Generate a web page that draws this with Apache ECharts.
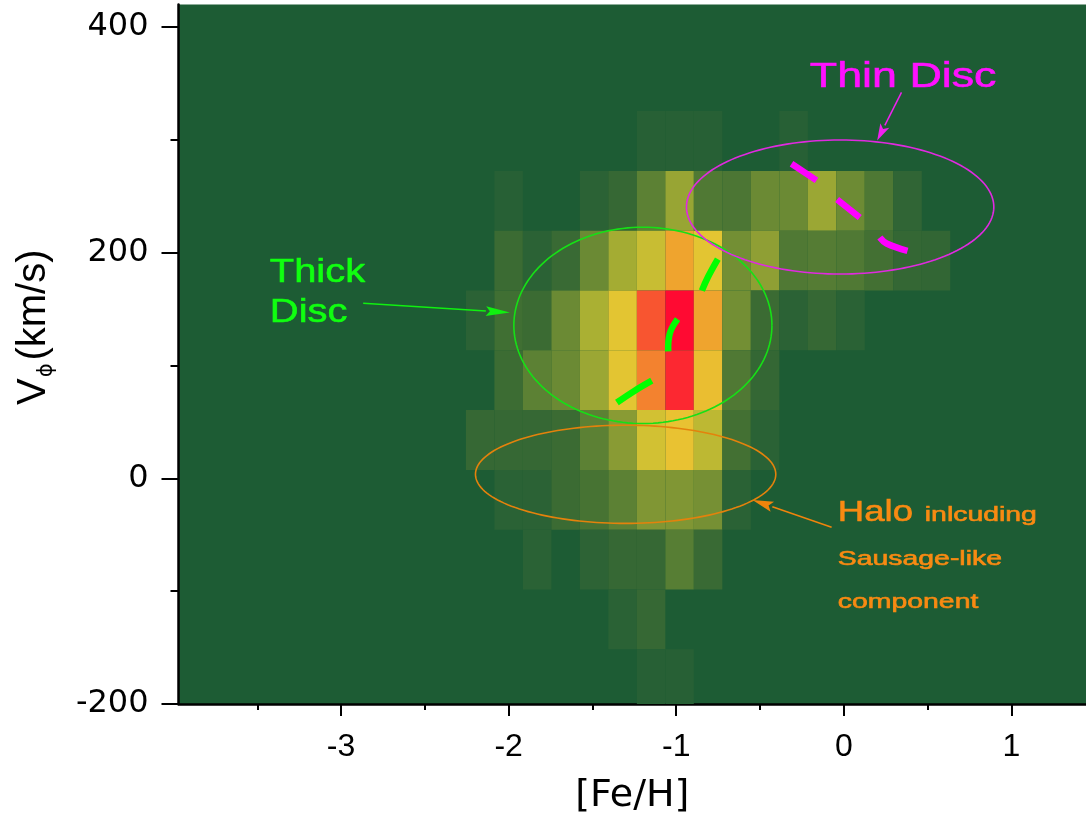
<!DOCTYPE html>
<html>
<head>
<meta charset="utf-8">
<title>[Fe/H] vs V_phi density</title>
<script src="https://cdn.jsdelivr.net/npm/echarts@6/dist/echarts.min.js"></script>
<style>
  html, body { margin: 0; padding: 0; background: #ffffff; }
  #chart { width: 1086px; height: 820px; }
</style>
</head>
<body>
<div id="chart"></div>
<script>
// ---- bin edges ----
// [Fe/H] bin edges (dex), left to right
const feEdges = [-2.255, -2.085, -1.915, -1.745, -1.575, -1.405, -1.235, -1.065, -0.895,
                 -0.725, -0.555, -0.385, -0.215, -0.045, 0.125, 0.295, 0.465, 0.635];
// V_phi bin edges (km/s), top to bottom
const vphiEdges = [325.5, 272.5, 219.5, 166.5, 113.5, 60.5, 7.5, -45.5, -98.5, -151.5, -204.5];

// ---- relative star density per bin (0-100), one row per V_phi bin, top to bottom ----
const rowV299  = [0, 0, 0, 0, 0, 0, 6, 6, 6, 0, 0, 6, 0, 0, 0, 0, 0];
const rowV246  = [0, 6, 0, 0, 9, 15, 33, 54, 28, 26, 39, 39, 55, 40, 27, 12, 0];
const rowV193  = [0, 18, 9, 17, 39, 58, 68, 89, 78, 42, 51, 28, 30, 28, 22, 14, 13];
const rowV140  = [9, 21, 18, 39, 60, 78, 95, 100, 89, 42, 18, 9, 15, 8, 0, 0, 0];
const rowV87   = [0, 19, 33, 39, 55, 78, 92, 98, 82, 28, 14, 0, 0, 0, 0, 0, 0];
const rowV34   = [15, 15, 15, 18, 33, 49, 71, 81, 65, 22, 8, 0, 0, 0, 0, 0, 0];
const rowVm19  = [0, 8, 9, 18, 24, 33, 46, 46, 43, 8, 0, 0, 0, 0, 0, 0, 0];
const rowVm72  = [0, 0, 8, 0, 10, 15, 15, 31, 17, 0, 0, 0, 0, 0, 0, 0, 0];
const rowVm125 = [0, 0, 0, 0, 0, 8, 15, 0, 0, 0, 0, 0, 0, 0, 0, 0, 0];
const rowVm178 = [0, 0, 0, 0, 0, 0, 6, 6, 0, 0, 0, 0, 0, 0, 0, 0, 0];
const densityRows = [rowV299, rowV246, rowV193, rowV140, rowV87, rowV34, rowVm19, rowVm72, rowVm125, rowVm178];

// ---- axis ticks ----
const xMajorTicks = [-3, -2, -1, 0, 1];
const xMinorTicks = [-3.5, -2.5, -1.5, -0.5, 0.5];
const yMajorTicks = [-200, 0, 200, 400];
const yMinorTicks = [-100, 100, 300];

// ---- annotation geometry (data coordinates) ----
const ellipses = [
  { cx: -1.199, cy: 135.6, rx: 0.770, ry: 87.0, color: '#16e016' },  // thick disc
  { cx: -0.022, cy: 240.5, rx: 0.917, ry: 59.4, color: '#e02ae0' },  // thin disc
  { cx: -1.302, cy: 3.6,   rx: 0.896, ry: 43.5, color: '#e4820c' }   // halo
];
const dashes = [
  { color: '#00ff00', pts: [[-1.354, 67.2], [-1.25, 77.5], [-1.146, 86.6]] },
  { color: '#00ff00', pts: [[-1.048, 112.5], [-1.038, 128.7], [-0.992, 141.1]] },
  { color: '#00ff00', pts: [[-0.847, 166.4], [-0.810, 178.7], [-0.752, 194.4]] },
  { color: '#ff00ff', pts: [[-0.312, 278.9], [-0.163, 264.1]] },
  { color: '#ff00ff', pts: [[-0.040, 247.1], [0.095, 231.2]] },
  { color: '#ff00ff', pts: [[0.215, 213.5], [0.255, 208.2], [0.380, 201.7]] }
];
const arrows = [
  { from: [-2.868, 155.2], to: [-1.993, 146.9], color: '#10f010', head: 24, half: 4.8 },
  { from: [0.344, 342.1],  to: [0.199, 299.4],  color: '#f020f0', head: 17, half: 5 },
  { from: [-0.073, -43.4], to: [-0.545, -19.1], color: '#f0840c', head: 21, half: 5.2 }
];
const notes = [
  { text: 'Thin Disc',    at: [-0.203, 355.3],  size: 35,   sx: 1.28, color: '#ff10ff' },
  { text: 'Thick',        at: [-3.425, 182.0],  size: 33.5, sx: 1.19, color: '#10ff10' },
  { text: 'Disc',         at: [-3.425, 147.1],  size: 33.5, sx: 1.19, color: '#10ff10' },
  { text: 'Halo',         at: [-0.036, -30.5],  size: 29,   sx: 1.26, color: '#f88a12' },
  { text: 'inlcuding',    at: [0.483, -33.3],   size: 20,   sx: 1.42, color: '#f88a12' },
  { text: 'Sausage-like', at: [-0.036, -72.1],  size: 20,   sx: 1.42, color: '#f88a12' },
  { text: 'component',    at: [-0.036, -110.1], size: 20,   sx: 1.42, color: '#f88a12' }
];

// one record per non-empty bin: [xLow, xHigh, yLow, yHigh, density]
const cells = [];
densityRows.forEach((row, r) => {
  row.forEach((v, c) => {
    if (v > 0) cells.push([feEdges[c], feEdges[c + 1], vphiEdges[r + 1], vphiEdges[r], v]);
  });
});

function renderCell(params, api) {
  const p0 = api.coord([api.value(0), api.value(3)]);
  const p1 = api.coord([api.value(1), api.value(2)]);
  const cs = params.coordSys;
  const rect = echarts.graphic.clipRectByRect(
    { x: p0[0], y: p0[1], width: p1[0] - p0[0], height: p1[1] - p0[1] },
    { x: cs.x, y: cs.y, width: cs.width, height: cs.height }
  );
  if (!rect) return null;
  return { type: 'rect', shape: rect, style: { fill: api.visual('color') } };
}

function renderNotes(params, api) {
  const children = [];
  ellipses.forEach(e => {
    const c = api.coord([e.cx, e.cy]);
    const ex = api.coord([e.cx + e.rx, e.cy]);
    const ey = api.coord([e.cx, e.cy + e.ry]);
    const a = ex[0] - c[0], b = c[1] - ey[1];
    const pts = [];
    for (let i = 0; i <= 160; i++) {
      const t = (i / 160) * Math.PI * 2;
      pts.push([c[0] + a * Math.cos(t), c[1] + b * Math.sin(t)]);
    }
    children.push({ type: 'polyline', shape: { points: pts }, style: { stroke: e.color, lineWidth: 1.6, fill: null } });
  });
  dashes.forEach(d => {
    children.push({
      type: 'polyline',
      shape: { points: d.pts.map(p => api.coord(p)), smooth: 0.4 },
      style: { stroke: d.color, lineWidth: 6.5, lineCap: 'butt', fill: null }
    });
  });
  arrows.forEach(ar => {
    const f = api.coord(ar.from), t = api.coord(ar.to);
    const dx = t[0] - f[0], dy = t[1] - f[1];
    const len = Math.sqrt(dx * dx + dy * dy);
    const ux = dx / len, uy = dy / len;
    const bx = t[0] - ux * ar.head, by = t[1] - uy * ar.head;
    children.push({ type: 'line', shape: { x1: f[0], y1: f[1], x2: bx, y2: by }, style: { stroke: ar.color, lineWidth: 1.5 } });
    children.push({
      type: 'polygon',
      shape: { points: [[t[0], t[1]], [bx - uy * ar.half, by + ux * ar.half], [bx + ux * 4, by + uy * 4], [bx + uy * ar.half, by - ux * ar.half]] },
      style: { fill: ar.color }
    });
  });
  notes.forEach(n => {
    const p = api.coord(n.at);
    children.push({
      type: 'text', x: p[0], y: p[1], scaleX: n.sx,
      style: {
        text: n.text, fill: n.color, stroke: n.color, lineWidth: 0.6,
        fontSize: n.size, fontFamily: 'Liberation Sans, Arial, sans-serif',
        align: 'left', verticalAlign: 'middle'
      }
    });
  });
  return { type: 'group', children: children };
}

const axisFont = 'Liberation Sans, Arial, sans-serif';
const xRange = { min: -3.97, max: 1.445 };
const yRange = { min: -200, max: 420 };

const chart = echarts.init(document.getElementById('chart'), null, { renderer: 'canvas' });
chart.setOption({
  animation: false,
  backgroundColor: '#ffffff',
  grid: {
    left: 178.5, right: 0, top: 4.5, bottom: 114.4,
    show: true, backgroundColor: '#1d5c34', borderWidth: 0
  },
  visualMap: {
    type: 'continuous', show: false, min: 0, max: 100, dimension: 4, seriesIndex: 0,
    inRange: { color: ['#1d5c34', '#2d6335', '#3e6d33', '#557c34', '#6d8b34', '#8c9d34',
                       '#aab033', '#d0c033', '#e8c632', '#f0a02e', '#ff0a32'] }
  },
  xAxis: [
    {
      type: 'value', min: xRange.min, max: xRange.max, position: 'bottom',
      name: '[Fe/H]', nameLocation: 'middle', nameGap: 73,
      nameTextStyle: { fontSize: 38, fontFamily: 'DejaVu Sans, sans-serif', color: '#000' },
      axisLine: { show: true, onZero: false, lineStyle: { color: '#000', width: 2.5 } },
      axisTick: { show: true, customValues: xMajorTicks, length: 12, lineStyle: { color: '#000', width: 2 } },
      axisLabel: { customValues: xMajorTicks, fontSize: 32, fontFamily: axisFont, color: '#000', margin: 27 },
      splitLine: { show: false }
    },
    {
      type: 'value', min: xRange.min, max: xRange.max, position: 'bottom',
      axisLine: { show: false, onZero: false },
      axisTick: { show: true, customValues: xMinorTicks, length: 6, lineStyle: { color: '#000', width: 2 } },
      axisLabel: { show: false },
      splitLine: { show: false }
    }
  ],
  yAxis: [
    {
      type: 'value', min: yRange.min, max: yRange.max, position: 'left',
      name: '{v|V}{s|ϕ}{n|(km/s)}', nameLocation: 'middle', nameRotate: 90, nameGap: 121,
      nameTextStyle: {
        color: '#000', fontFamily: axisFont, fontSize: 40,
        padding: [0, 0, 0, 54],
        rich: {
          v: { fontSize: 40, fontFamily: axisFont, color: '#000', lineHeight: 44, verticalAlign: 'top' },
          s: { fontSize: 21, fontFamily: 'DejaVu Sans, sans-serif', color: '#000', lineHeight: 21, verticalAlign: 'bottom', padding: [0, 3, 0, 1] },
          n: { fontSize: 40, fontFamily: axisFont, color: '#000', lineHeight: 44, verticalAlign: 'top' }
        }
      },
      axisLine: { show: true, onZero: false, lineStyle: { color: '#000', width: 2.5 } },
      axisTick: { show: true, customValues: yMajorTicks, length: 17, lineStyle: { color: '#000', width: 2 } },
      axisLabel: { customValues: yMajorTicks, fontSize: 32, fontFamily: 'DejaVu Sans, sans-serif', color: '#000', margin: 30 },
      splitLine: { show: false }
    },
    {
      type: 'value', min: yRange.min, max: yRange.max, position: 'left',
      axisLine: { show: false, onZero: false },
      axisTick: { show: true, customValues: yMinorTicks, length: 8, lineStyle: { color: '#000', width: 2 } },
      axisLabel: { show: false },
      splitLine: { show: false }
    }
  ],
  series: [
    {
      name: 'density', type: 'custom', xAxisIndex: 0, yAxisIndex: 0,
      renderItem: renderCell, data: cells,
      encode: { x: [0, 1], y: [2, 3] }, silent: true
    },
    {
      name: 'components', type: 'custom', xAxisIndex: 0, yAxisIndex: 0,
      renderItem: renderNotes, data: [[0, 0]], silent: true, z: 5
    }
  ]
});
</script>
</body>
</html>
